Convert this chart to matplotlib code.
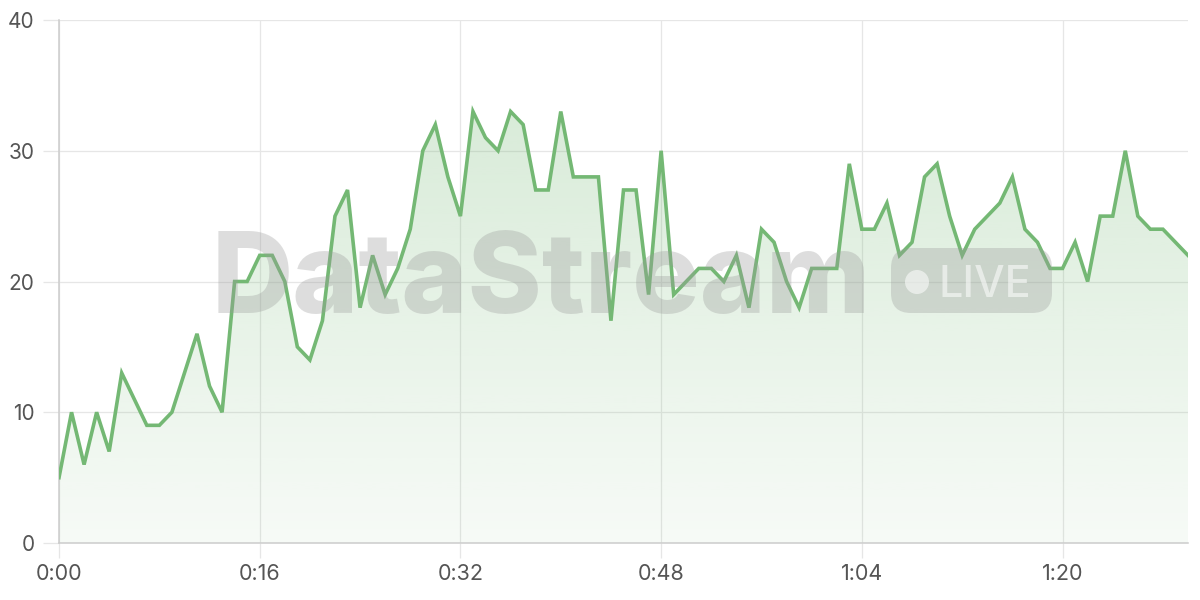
import matplotlib
matplotlib.use("Agg")
import matplotlib.pyplot as plt
import numpy as np
from matplotlib.colors import to_rgb
from matplotlib.patches import FancyBboxPatch, Circle, Polygon

# one sample per second, 0:00 .. 1:30
seconds = np.arange(91)
values = [5, 10, 6, 10, 7, 13, 11, 9, 9, 10,
          13, 16, 12, 10, 20, 20, 22, 22, 20, 15,
          14, 17, 25, 27, 18, 22, 19, 21, 24, 30,
          32, 28, 25, 33, 31, 30, 33, 32, 27, 27,
          33, 28, 28, 28, 17, 27, 27, 19, 30, 19,
          20, 21, 21, 20, 22, 18, 24, 23, 20, 18,
          21, 21, 21, 29, 24, 24, 26, 22, 23, 28,
          29, 25, 22, 24, 25, 26, 28, 24, 23, 21,
          21, 23, 20, 25, 25, 30, 25, 24, 24, 23,
          22]
x_ticks = [0, 16, 32, 48, 64, 80]
x_labels = ["0:00", "0:16", "0:32", "0:48", "1:04", "1:20"]
y_ticks = [0, 10, 20, 30, 40]

LINE = "#74b874"
GRID = "#e6e6e6"
TEXT = "#555555"

plt.rcParams["font.family"] = ["Inter", "DejaVu Sans"]

fig = plt.figure(figsize=(12, 6), dpi=100)
ax = fig.add_axes([59 / 1200, 57 / 600, (1188 - 59) / 1200, 523 / 600])
ax.set_xlim(0, 90)
ax.set_ylim(0, 40)

# watermark behind the data (positions in inches, fig is 12x6 at 100 dpi)
fig.text(541 / 1200, 1 - 313 / 600, "DataStream", fontsize=81, fontweight="heavy",
         color="#9a9a9a", alpha=0.33, ha="center", va="baseline", zorder=0)
fig.patches.append(FancyBboxPatch((8.91, 2.87), 1.61, 0.65,
                                  boxstyle="round,pad=0,rounding_size=0.2",
                                  transform=fig.dpi_scale_trans, facecolor="#9a9a9a",
                                  alpha=0.33, edgecolor="none", zorder=0))
fig.patches.append(Circle((9.17, 3.18), 0.12, transform=fig.dpi_scale_trans,
                          facecolor="white", alpha=0.55, edgecolor="none", zorder=1))
fig.text(938 / 1200, 1 - 297 / 600, "LIVE", fontsize=31, fontweight="medium",
         color="white", alpha=0.55, ha="left", va="baseline", zorder=1)

# gradient fill under the line, clipped to the area polygon
r, g, b = to_rgb(LINE)
grad = np.zeros((256, 1, 4))
grad[..., 0], grad[..., 1], grad[..., 2] = r, g, b
grad[:, 0, 3] = np.linspace(0.06, 0.32, 256)
img = ax.imshow(grad, aspect="auto", extent=[0, 90, 0, 40], origin="lower", zorder=2)
area = Polygon(np.column_stack([np.r_[seconds[0], seconds, seconds[-1]],
                                np.r_[0, values, 0]]),
               closed=True, facecolor="none", edgecolor="none")
ax.add_patch(area)
img.set_clip_path(area)

ax.plot(seconds, values, color=LINE, lw=2.6, solid_joinstyle="miter", zorder=3)

ax.set_xticks(x_ticks)
ax.set_xticklabels(x_labels)
ax.set_yticks(y_ticks)
ax.grid(True, color=GRID, lw=0.9, zorder=1)
ax.set_axisbelow(True)
ax.patch.set_alpha(0)
for s in ["top", "right"]:
    ax.spines[s].set_visible(False)
for s in ["left", "bottom"]:
    ax.spines[s].set_color("#cccccc")
    ax.spines[s].set_linewidth(1.1)
ax.tick_params(axis="y", length=11.5, color=GRID, width=0.9, labelsize=15, labelcolor=TEXT, pad=6)
ax.tick_params(axis="x", length=11, color=GRID, width=0.9, labelsize=15.5, labelcolor=TEXT, pad=4)

fig.savefig("out.png", dpi=100)
